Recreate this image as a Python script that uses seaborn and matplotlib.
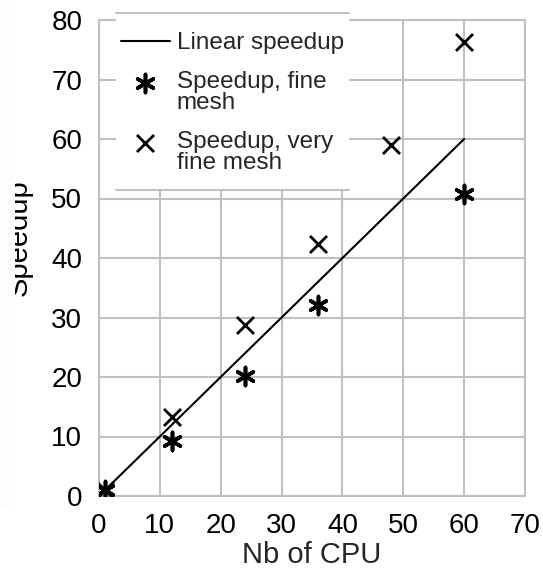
import matplotlib
matplotlib.use("Agg")
import matplotlib.pyplot as plt
from matplotlib.lines import Line2D
from matplotlib.patches import Rectangle
import seaborn as sns
import pandas as pd

# Speedup measurements
cpus_linear = [1, 60]
speedup_linear = [1, 60]

cpus_fine = [1, 12, 24, 36, 60]
speedup_fine = [1, 9.2, 20.2, 32.1, 50.7]

cpus_very_fine = [1, 12, 24, 36, 48, 60]
speedup_very_fine = [1, 13.3, 28.8, 42.4, 59.0, 76.3]

x_ticks = [0, 10, 20, 30, 40, 50, 60, 70]
y_ticks = [0, 10, 20, 30, 40, 50, 60, 70, 80]

sns.set_style("white")
plt.rcParams["font.family"] = ["Liberation Sans", "DejaVu Sans"]

GRID = "#c0c0c0"
W, H = 543, 568


def fx(px):
    return px / W


def fy(py):
    return 1 - py / H


fig = plt.figure(figsize=(W / 100, H / 100), dpi=100)
ax = fig.add_axes([fx(99), fy(496), fx(426), 476 / H])

lin = pd.DataFrame({"cpu": cpus_linear, "speedup": speedup_linear})
fine = pd.DataFrame({"cpu": cpus_fine, "speedup": speedup_fine})
vfine = pd.DataFrame({"cpu": cpus_very_fine, "speedup": speedup_very_fine})

sns.lineplot(data=lin, x="cpu", y="speedup", ax=ax, color="black",
             linewidth=1.5, label="Linear speedup", zorder=3)
sns.scatterplot(data=fine, x="cpu", y="speedup", ax=ax, marker=(6, 2, 0),
                s=170, color="black", linewidth=2.6, edgecolor="black",
                label="Speedup, fine\nmesh", zorder=4)
sns.scatterplot(data=vfine, x="cpu", y="speedup", ax=ax, marker="x",
                s=150, color="black", linewidth=2.0,
                label="Speedup, very\nfine mesh", zorder=4)

ax.set_xlim(0, 70)
ax.set_ylim(0, 80)
ax.set_xticks(x_ticks)
ax.set_yticks(y_ticks)
ax.grid(True, color=GRID, linewidth=1.5)
ax.set_axisbelow(True)
for s in ax.spines.values():
    s.set_color(GRID)
    s.set_linewidth(1.5)
ax.tick_params(axis="both", direction="out", length=9, width=1.5, color=GRID,
               labelsize=20, labelcolor="black", pad=3)
ax.set_xlabel("Nb of CPU", fontsize=21, labelpad=2)
ax.set_ylabel("")

# Legend panel: white box with rules above and below
ax.add_patch(Rectangle((fx(116), fy(190)), fx(233), 177 / H,
                       transform=fig.transFigure, facecolor="white",
                       edgecolor="none", clip_on=False, zorder=4.5))
for py in (13, 190):
    ax.add_line(Line2D([fx(116), fx(349)], [fy(py), fy(py)], color=GRID,
                       linewidth=1.5, transform=fig.transFigure,
                       clip_on=False, zorder=4.6))

handles, labels = ax.get_legend_handles_labels()
leg = ax.legend(handles, labels, loc="upper left",
                bbox_to_anchor=(fx(121), fy(32)),
                bbox_transform=fig.transFigure, frameon=False,
                fontsize=17.5, handlelength=2.0, handletextpad=0.3,
                labelspacing=0.7, borderpad=0, borderaxespad=0,
                scatteryoffsets=[1.05])
leg.set_zorder(5)
for t in leg.get_texts():
    t.set_linespacing(0.95)

# Vertical axis title, partly hidden behind the margin panel
fig.text(fx(27), fy(238), "Speedup", rotation=90, fontsize=21,
         rotation_mode="anchor", ha="center", va="baseline", color="black")
fig.add_artist(Rectangle((0, fy(508)), fx(15), 508 / H,
                         transform=fig.transFigure, facecolor="#fdfdfd",
                         edgecolor="none", zorder=20))

fig.savefig("out.png", dpi=100)
